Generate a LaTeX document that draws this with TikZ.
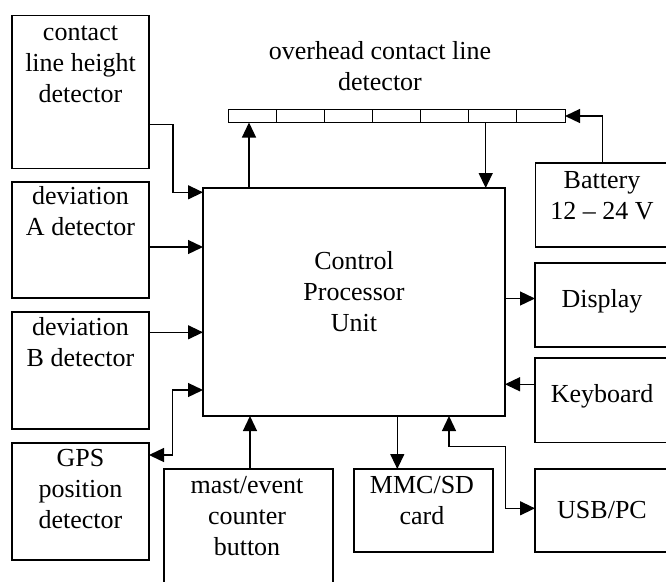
\documentclass[tikz,border=0pt]{standalone}
\usepackage{fontspec}
\setmainfont{Liberation Serif}
\usetikzlibrary{arrows.meta,calc}
\begin{document}
\begin{tikzpicture}[x=1pt,y=-1pt,
  font=\fontsize{26}{31}\selectfont,
  box/.style={draw=black, line width=1.3pt, anchor=north west, inner sep=0pt, outer sep=0pt},
  lbl/.style={anchor=north, align=center, inner sep=0pt, outer sep=0pt, yshift=21.7pt},
  arr/.style={line width=1.3pt, -{Triangle[length=15pt,width=14pt]}},
  dbl/.style={line width=1.3pt, {Triangle[length=15pt,width=14pt]}-{Triangle[length=15pt,width=14pt]}},
  cell/.style={line width=1pt}
]
\useasboundingbox (0,0) rectangle (666,581);
\clip (0,0) rectangle (666,581);

% boxes
\node[box, minimum width=137pt, minimum height=153pt] (clh) at (12,15.5) {};
\node[box, minimum width=137pt, minimum height=116pt] (devA) at (12,182) {};
\node[box, minimum width=137pt, minimum height=117pt] (devB) at (12,312) {};
\node[box, minimum width=137pt, minimum height=117pt] (gps) at (12,443) {};
\node[box, minimum width=169pt, minimum height=140pt] (mast) at (164,469) {};
\node[box, minimum width=302pt, minimum height=228pt] (cpu) at (203,188) {};
\node[box, minimum width=139pt, minimum height=83pt] (mmc) at (354,469) {};
\node[box, minimum width=150pt, minimum height=83pt] (usb) at (535,469) {};
\node[box, minimum width=150pt, minimum height=84.5pt] (kbd) at (535,358) {};
\node[box, minimum width=150pt, minimum height=84pt] (disp) at (535,263) {};
\node[box, minimum width=150pt, minimum height=84pt] (batt) at (535.5,163) {};

% overhead contact line strip
\node[box, cell, minimum width=337pt, minimum height=13pt] (strip) at (228,109.5) {};
\foreach \i in {1,...,6}{
  \draw[cell] ([xshift=\i*48.14pt]strip.north west) -- ([xshift=\i*48.14pt]strip.south west);
}

% texts
\node[lbl] (tOH) at (380,59) {\strut overhead contact line\\detector};
\node[lbl] (tclh) at (80.5,40) {\strut contact\\line height\\detector};
\node[lbl] (tdevA) at (80.5,204) {\strut deviation\\A detector};
\node[lbl] (tdevB) at (80.5,335) {\strut deviation\\B detector};
\node[lbl] (tgps) at (80.5,466.7) {\strut GPS\\position\\detector};
\node[lbl] (tmast) at (247,493.3) {\strut mast/event\\counter\\button};
\node[lbl] (tmmc) at (422,493.3) {\strut MMC/SD\\card};
\node[lbl] (tusb) at (602,518) {\strut USB/PC};
\node[lbl] (tkbd) at (602,402.7) {\strut Keyboard};
\node[lbl] (tdisp) at (602,307) {\strut Display};
\node[lbl] (tbatt) at (602,188.3) {\strut Battery\\12 -- 24 V};
\node[lbl] (tcpu) at (354,269.3) {\strut Control\\Processor\\Unit};

% connectors
\draw[arr] ([xshift=46pt]cpu.north west) coordinate (c1) -- (c1 |- strip.south);
\draw[arr] ([xshift=257.7pt]strip.south west) coordinate (c2) -- (c2 |- cpu.north);
\draw[arr] ([xshift=66.8pt]batt.north west) |- (strip.east);
\draw[arr] ([yshift=-109.2pt]clh.north east) -- ++(24,0) |- ([yshift=-4.3pt]cpu.north west);
\draw[arr] ([yshift=-7pt]devA.east) coordinate (c3) -- (c3 -| cpu.west);
\draw[arr] ([yshift=38.2pt]devB.east) coordinate (c4) -- (c4 -| cpu.west);
\draw[dbl] ([yshift=26pt]cpu.south west) -- ++(-30.3,0) |- ([yshift=-12pt]gps.north east);
\draw[arr] ([xshift=86pt]mast.north west) coordinate (c5) -- (c5 |- cpu.south);
\draw[arr] ([xshift=43.3pt]mmc.north west) coordinate (c6) (c6 |- cpu.south) -- (c6);
\draw[dbl] ([xshift=246pt]cpu.south west) |- ++(56.7,30.7) |- ([yshift=2.2pt]usb.west);
\draw[arr] ([yshift=6.5pt]disp.west) coordinate (c7) (c7 -| cpu.east) -- (c7);
\draw[arr] ([yshift=16pt]kbd.west) coordinate (c8) -- (c8 -| cpu.east);
\end{tikzpicture}
\end{document}
